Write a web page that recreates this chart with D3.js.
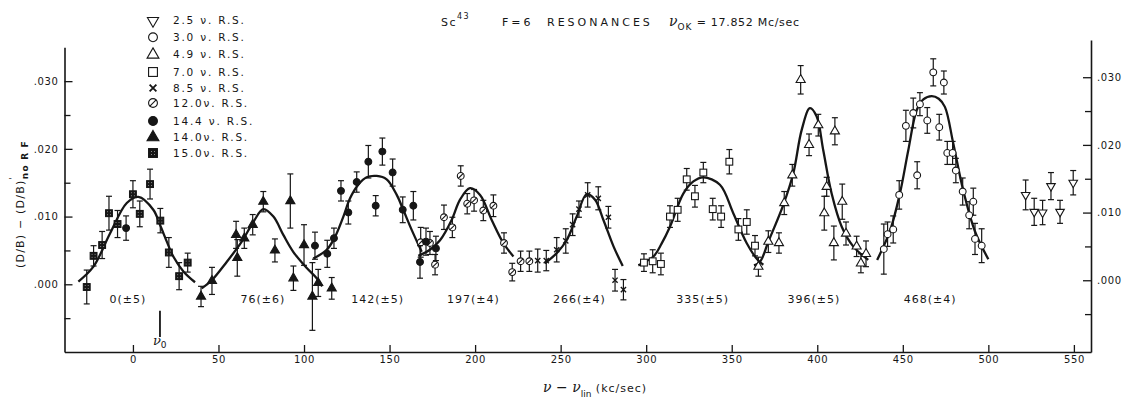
<!DOCTYPE html>
<html><head><meta charset="utf-8">
<script src="https://cdn.jsdelivr.net/npm/d3@7"></script>
<style>
html,body{margin:0;padding:0;background:#fff;}
svg{display:block;font-family:"DejaVu Sans",sans-serif;}
</style></head>
<body><svg id="c" width="1123" height="400"></svg>
<script>
// ---- data: [x (kc/sec), value, error] ----
const rs25  = [[521.8,0.0132,0.0022],[526.8,0.0107,0.0020],[531.7,0.0106,0.0018],[536.6,0.0145,0.0020],[541.9,0.0107,0.0017],[549.6,0.0150,0.0018]];
const rs30  = [[438.9,0.0052,0.0037],[441.1,0.0074,0.0018],[444.4,0.0081,0.0020],[447.9,0.0132,0.0021],[451.8,0.0234,0.0023],[456.1,0.0253,0.0022],[458.4,0.0161,0.0020],[460.0,0.0266,0.0017],[464.3,0.0242,0.0019],[467.8,0.0313,0.0020],[471.3,0.0232,0.0019],[474.0,0.0298,0.0017],[476.0,0.0194,0.0017],[479.1,0.0194,0.0017],[481.0,0.0168,0.0018],[485.0,0.0137,0.0020],[488.8,0.0102,0.0020],[491.2,0.0122,0.0020],[492.2,0.0067,0.0023],[496.1,0.0057,0.0025]];
const rs49  = [[365.6,0.0026,0.0014],[371.4,0.0063,0.0016],[377.6,0.0061,0.0015],[380.7,0.0120,0.0017],[385.4,0.0161,0.0016],[390.3,0.0302,0.0021],[395.2,0.0206,0.0016],[400.6,0.0235,0.0016],[404.1,0.0105,0.0025],[405.5,0.0144,0.0014],[410.3,0.0226,0.0020],[409.7,0.0061,0.0025],[414.6,0.0122,0.0026],[416.8,0.0075,0.0017],[423.0,0.0056,0.0015],[425.5,0.0031,0.0014],[428.5,0.0045,0.0019]];
const rs70  = [[298.7,0.0032,0.0013],[303.8,0.0034,0.0017],[308.6,0.0030,0.0016],[313.9,0.0100,0.0016],[318.4,0.0110,0.0017],[323.7,0.0155,0.0016],[328.5,0.0130,0.0016],[333.4,0.0165,0.0015],[338.9,0.0111,0.0016],[343.8,0.0100,0.0016],[348.6,0.0181,0.0018],[353.9,0.0081,0.0016],[358.8,0.0092,0.0018],[363.6,0.0057,0.0015]];
const rs85  = [[236.6,0.0035,0.0017],[241.6,0.0035,0.0015],[247.7,0.0051,0.0018],[253.0,0.0064,0.0018],[257.0,0.0088,0.0016],[260.7,0.0111,0.0012],[265.8,0.0132,0.0018],[272.0,0.0127,0.0017],[277.9,0.0099,0.0016],[281.8,0.0006,0.0016],[286.7,-0.0008,0.0015]];
const rs120 = [[168.2,0.0062,0.0022],[173.6,0.0061,0.0017],[176.6,0.0029,0.0015],[181.8,0.0099,0.0018],[186.7,0.0084,0.0015],[191.6,0.0160,0.0015],[195.4,0.0119,0.0015],[199.4,0.0124,0.0016],[204.8,0.0109,0.0015],[210.7,0.0116,0.0016],[216.9,0.0061,0.0015],[221.7,0.0018,0.0013],[226.6,0.0034,0.0015],[231.7,0.0034,0.0015]];
const rs144 = [[-4.0,0.0083,0.0018],[106.4,0.0057,0.0020],[113.6,0.0045,0.0020],[117.5,0.0068,0.0015],[121.6,0.0138,0.0015],[125.9,0.0106,0.0017],[130.8,0.0151,0.0015],[137.6,0.0181,0.0024],[141.9,0.0116,0.0015],[145.8,0.0196,0.0020],[151.8,0.0165,0.0020],[157.7,0.0110,0.0019],[163.9,0.0116,0.0021],[167.8,0.0033,0.0024],[171.3,0.0063,0.0020],[177.1,0.0053,0.0018]];
const rs140 = [[39.8,-0.0018,0.0015],[46.2,0.0005,0.0020],[60.3,0.0073,0.0020],[61.0,0.0039,0.0027],[65.1,0.0068,0.0015],[70.0,0.0088,0.0015],[76.2,0.0122,0.0015],[83.0,0.0050,0.0017],[92.0,0.0123,0.0040],[93.8,0.0009,0.0018],[100.0,0.0058,0.0030],[104.9,-0.0018,0.0050],[108.3,0.0002,0.0020],[116.2,-0.0006,0.0016]];
const rs150 = [[-27,-0.0004,0.0025],[-23,0.0042,0.0015],[-18,0.0058,0.0020],[-14,0.0105,0.0025],[-9,0.0089,0.0020],[0,0.0133,0.0020],[4,0.0104,0.0019],[10,0.0148,0.0022],[16,0.0094,0.0018],[21,0.0047,0.0022],[27,0.0012,0.0020],[32,0.0032,0.0014]];

// fitted resonance curves
const curve0 = [[-31.9,0.0004],[-23.1,0.0026],[-13.4,0.0075],[-3.6,0.0120],[3.2,0.0129],[11.9,0.0110],[15.8,0.0088],[19.8,0.0063],[23.6,0.0041],[29.5,0.0019],[36.3,0.0003]];
const curve1 = [[40.2,-0.0006],[46.1,0.0006],[54.8,0.0033],[63.6,0.0063],[70.4,0.0092],[76.2,0.0111],[82.1,0.0100],[87.9,0.0073],[93.7,0.0048],[101.6,0.0024],[107.4,0.0009],[110.6,-0.0003]];
const curve2 = [[105.4,0.0038],[113.3,0.0051],[118.1,0.0070],[123.0,0.0100],[126.9,0.0127],[131.7,0.0147],[136.6,0.0158],[142.5,0.0160],[148.3,0.0155],[154.2,0.0132],[158.0,0.0110],[163.0,0.0080],[168.8,0.0048]];
const curve3 = [[166.8,0.0042],[173.6,0.0051],[179.5,0.0065],[186.3,0.0095],[191.2,0.0125],[197.0,0.0142],[202.9,0.0132],[209.7,0.0095],[216.5,0.0061],[222.4,0.0041]];
const curve4 = [[240.8,0.0031],[247.7,0.0046],[253.5,0.0065],[259.4,0.0100],[265.2,0.0133],[270.1,0.0125],[275.0,0.0095],[280.9,0.0056],[286.3,0.0027]];
const curve5 = [[295.4,0.0028],[304.2,0.0041],[309.0,0.0060],[313.9,0.0085],[321.7,0.0134],[327.6,0.0152],[333.4,0.0158],[343.1,0.0147],[350.9,0.0105],[358.7,0.0061],[365.5,0.0035],[368.5,0.0029]];
const curve6 = [[363.0,0.0028],[366.5,0.0033],[371.4,0.0063],[380.1,0.0117],[386.0,0.0164],[390.9,0.0228],[395.7,0.0260],[399.6,0.0248],[403.5,0.0198],[408.4,0.0134],[414.3,0.0085],[421.0,0.0056],[429.8,0.0036]];
const curve7 = [[435.0,0.0036],[442.4,0.0078],[448.3,0.0134],[453.2,0.0198],[458.1,0.0257],[462.0,0.0273],[466.9,0.0278],[471.0,0.0274],[474.6,0.0262],[479.5,0.0208],[485.3,0.0139],[492.2,0.0078],[500.0,0.0037]];

const resonanceLabels = ["0(±5)","76(±6)","142(±5)","197(±4)","266(±4)","335(±5)","396(±5)","468(±4)"];
const resonanceLabelX = [-3, 76, 143, 199, 261, 333, 398, 466];
const legendLabels = ["2.5 ν. R.S.","3.0 ν. R.S.","4.9 ν. R.S.","7.0 ν. R.S.","8.5 ν. R.S.","12.0ν. R.S.","14.4 ν. R.S.","14.0ν. R.S.","15.0ν. R.S."];
const legendSymbols = ["invtri","circle","tri","square","x","slash","fcircle","ftri","fsquare"];
const xTickValues = [0,50,100,150,200,250,300,350,400,450,500,550];
const yTickValues = [0,0.010,0.020,0.030];
const yTickLabels = [".000",".010",".020",".030"];
const yMinorTicks = [-0.005,0.005,0.015,0.025];
const nu0 = 15.8;

// ---- drawing ----
const INK = "#161616";
const svg = d3.select("#c");
const defs = svg.append("defs");
const pat = defs.append("pattern").attr("id","tex").attr("patternUnits","userSpaceOnUse").attr("width",3).attr("height",3);
pat.append("rect").attr("width",3).attr("height",3).attr("fill",INK);
pat.append("rect").attr("x",1).attr("y",1).attr("width",1).attr("height",1).attr("fill","#888");

const x = d3.scaleLinear().domain([-40,560]).range([64.5,1091]);
const yL = d3.scaleLinear().domain([-0.010,0.035]).range([352,47.3]);
const yR = d3.scaleLinear().domain([-0.0106,0.0355]).range([352,40]);

function styleAxis(g){
  g.selectAll("path.domain").attr("stroke",INK).attr("stroke-width",1.6);
  g.selectAll(".tick line").attr("stroke",INK).attr("stroke-width",1.3);
  g.selectAll(".tick text").attr("fill",INK).attr("font-size",10).attr("letter-spacing",0.6).attr("font-family","DejaVu Sans, sans-serif");
}
// bottom axis
const gx = svg.append("g").attr("transform",`translate(0,${yL(-0.010)})`)
  .call(d3.axisBottom(x).tickValues(xTickValues).tickSizeInner(-7).tickSizeOuter(0).tickPadding(4).tickFormat(d3.format("d")));
styleAxis(gx);
// left axis
const gl = svg.append("g").attr("transform",`translate(${x(-40)},0)`)
  .call(d3.axisLeft(yL).tickValues(yTickValues).tickSizeInner(-8).tickSizeOuter(0).tickPadding(6).tickFormat((d,i)=>yTickLabels[i]));
styleAxis(gl);
const glm = svg.append("g").attr("transform",`translate(${x(-40)},0)`)
  .call(d3.axisLeft(yL).tickValues(yMinorTicks).tickSizeInner(-6).tickSizeOuter(0).tickFormat(""));
styleAxis(glm); glm.select("path.domain").remove();
// right axis
const gr = svg.append("g").attr("transform",`translate(${x(560)},0)`)
  .call(d3.axisRight(yR).tickValues(yTickValues).tickSizeInner(-8).tickSizeOuter(0).tickPadding(6).tickFormat((d,i)=>yTickLabels[i]));
styleAxis(gr);
const grm = svg.append("g").attr("transform",`translate(${x(560)},0)`)
  .call(d3.axisRight(yR).tickValues(yMinorTicks).tickSizeInner(-6).tickSizeOuter(0).tickFormat(""));
styleAxis(grm); grm.select("path.domain").remove();

// curves
const line = d3.line().x(d=>x(d[0])).y(d=>yL(d[1])).curve(d3.curveCatmullRom.alpha(0.5));
[curve0,curve1,curve2,curve3,curve4,curve5,curve6,curve7].forEach(c=>{
  svg.append("path").datum(c).attr("d",line).attr("fill","none").attr("stroke",INK).attr("stroke-width",2.3);
});

// markers
function marker(g, type, s){
  s = s || 1;
  const r = 3.4*s;
  if(type==="circle"||type==="fcircle"){
    g.append("circle").attr("r",r).attr("fill",type==="fcircle"?INK:"#fff").attr("stroke",INK).attr("stroke-width",1.1);
  } else if(type==="slash"){
    g.append("circle").attr("r",r).attr("fill","#fff").attr("stroke",INK).attr("stroke-width",1.1);
    g.append("line").attr("x1",-r*0.75).attr("y1",r*0.75).attr("x2",r*0.75).attr("y2",-r*0.75).attr("stroke",INK).attr("stroke-width",1.1);
  } else if(type==="tri"||type==="ftri"){
    g.append("path").attr("d",d3.symbol(d3.symbolTriangle, 36*s*s)()).attr("fill",type==="ftri"?INK:"#fff").attr("stroke",INK).attr("stroke-width",1.1);
  } else if(type==="invtri"){
    g.append("path").attr("d",d3.symbol(d3.symbolTriangle, 32*s*s)()).attr("transform","rotate(180)").attr("fill","#fff").attr("stroke",INK).attr("stroke-width",1.1);
  } else if(type==="square"||type==="fsquare"){
    g.append("rect").attr("x",-r).attr("y",-r).attr("width",2*r).attr("height",2*r)
      .attr("fill",type==="fsquare"?"url(#tex)":"#fff").attr("stroke",INK).attr("stroke-width",1.1);
  } else if(type==="x"){
    const a = 2.6*s;
    g.append("path").attr("d",`M${-a},${-a}L${a},${a}M${-a},${a}L${a},${-a}`).attr("stroke",INK).attr("stroke-width",1.4*s);
  }
}
const seriesList = [[rs25,"invtri"],[rs30,"circle"],[rs49,"tri"],[rs70,"square"],[rs85,"x"],[rs120,"slash"],[rs144,"fcircle"],[rs140,"ftri"],[rs150,"fsquare"]];
seriesList.forEach(([data,type])=>{
  const g = svg.append("g");
  data.forEach(d=>{
    const cx = x(d[0]), y1 = yL(d[1]+d[2]), y2 = yL(d[1]-d[2]);
    g.append("line").attr("x1",cx).attr("x2",cx).attr("y1",y1).attr("y2",y2).attr("stroke",INK).attr("stroke-width",1.2);
    [y1,y2].forEach(yy=>g.append("line").attr("x1",cx-3).attr("x2",cx+3).attr("y1",yy).attr("y2",yy).attr("stroke",INK).attr("stroke-width",1.2));
  });
  data.forEach(d=>{
    marker(g.append("g").attr("transform",`translate(${x(d[0])},${yL(d[1])})`), type);
  });
});

// resonance labels
svg.append("g").selectAll("text").data(resonanceLabels).join("text")
  .attr("x",(d,i)=>x(resonanceLabelX[i])).attr("y",yL(-0.0027))
  .attr("text-anchor","middle").attr("font-size",11).attr("letter-spacing",1).attr("fill",INK).text(d=>d);

// nu0 marker
svg.append("line").attr("x1",x(nu0)).attr("x2",x(nu0)).attr("y1",yL(-0.0039)).attr("y2",yL(-0.0078)).attr("stroke",INK).attr("stroke-width",1.8);
const n0 = svg.append("text").attr("x",x(nu0)-7).attr("y",yL(-0.0090)).attr("font-size",13).attr("font-style","italic").attr("fill",INK).attr("font-family","DejaVu Serif, serif");
n0.append("tspan").text("ν");
n0.append("tspan").attr("font-size",9).attr("dy",3).attr("font-family","DejaVu Sans, sans-serif").attr("font-style","normal").text("0");

// legend
const lg = svg.append("g");
const legendY = [20.7,37.3,54.7,72,88,103,121,137.3,153];
legendLabels.forEach((t,i)=>{
  marker(lg.append("g").attr("transform",`translate(153,${legendY[i]})`), legendSymbols[i], 1.3);
  lg.append("text").attr("x",173).attr("y",legendY[i]+3.7).attr("font-size",10.5).attr("letter-spacing",1.8).attr("fill",INK).text(t);
});

// title
const tt = svg.append("g").attr("fill",INK).attr("font-size",11);
const sc = tt.append("text").attr("x",441).attr("y",26).attr("letter-spacing",1.5);
sc.append("tspan").text("Sc");
sc.append("tspan").attr("font-size",8).attr("dy",-7).text("43");
tt.append("text").attr("x",502).attr("y",26).attr("letter-spacing",3).text("F=6");
tt.append("text").attr("x",547).attr("y",26).attr("letter-spacing",3).text("RESONANCES");
const nk = tt.append("text").attr("x",669).attr("y",26);
nk.append("tspan").attr("font-size",14).attr("font-style","italic").attr("font-family","DejaVu Serif, serif").text("ν");
nk.append("tspan").attr("font-size",9).attr("dy",4).attr("letter-spacing",1).text("OK");
nk.append("tspan").attr("dy",-4).attr("letter-spacing",0.7).text(" = 17.852  Mc/sec");

// x axis title
const xt = svg.append("text").attr("x",543).attr("y",392).attr("fill",INK).attr("font-size",11);
xt.append("tspan").attr("font-size",14).attr("font-style","italic").attr("font-family","DejaVu Serif, serif").text("ν − ν");
xt.append("tspan").attr("font-size",9).attr("dy",5).text("lin");
xt.append("tspan").attr("dy",-5).attr("letter-spacing",1).text(" (kc/sec)");

// y axis title
const yt = svg.append("text").attr("transform","translate(24,268) rotate(-90)").attr("fill",INK).attr("font-size",11).attr("letter-spacing",1.2);
yt.append("tspan").text("(D/B) − (D/B)");
yt.append("tspan").attr("font-size",8).attr("dy",-8).text("'");
yt.append("tspan").attr("font-size",9).attr("dy",12).attr("dx",-3).attr("font-weight","bold").text("no R F");
</script>
</body></html>
